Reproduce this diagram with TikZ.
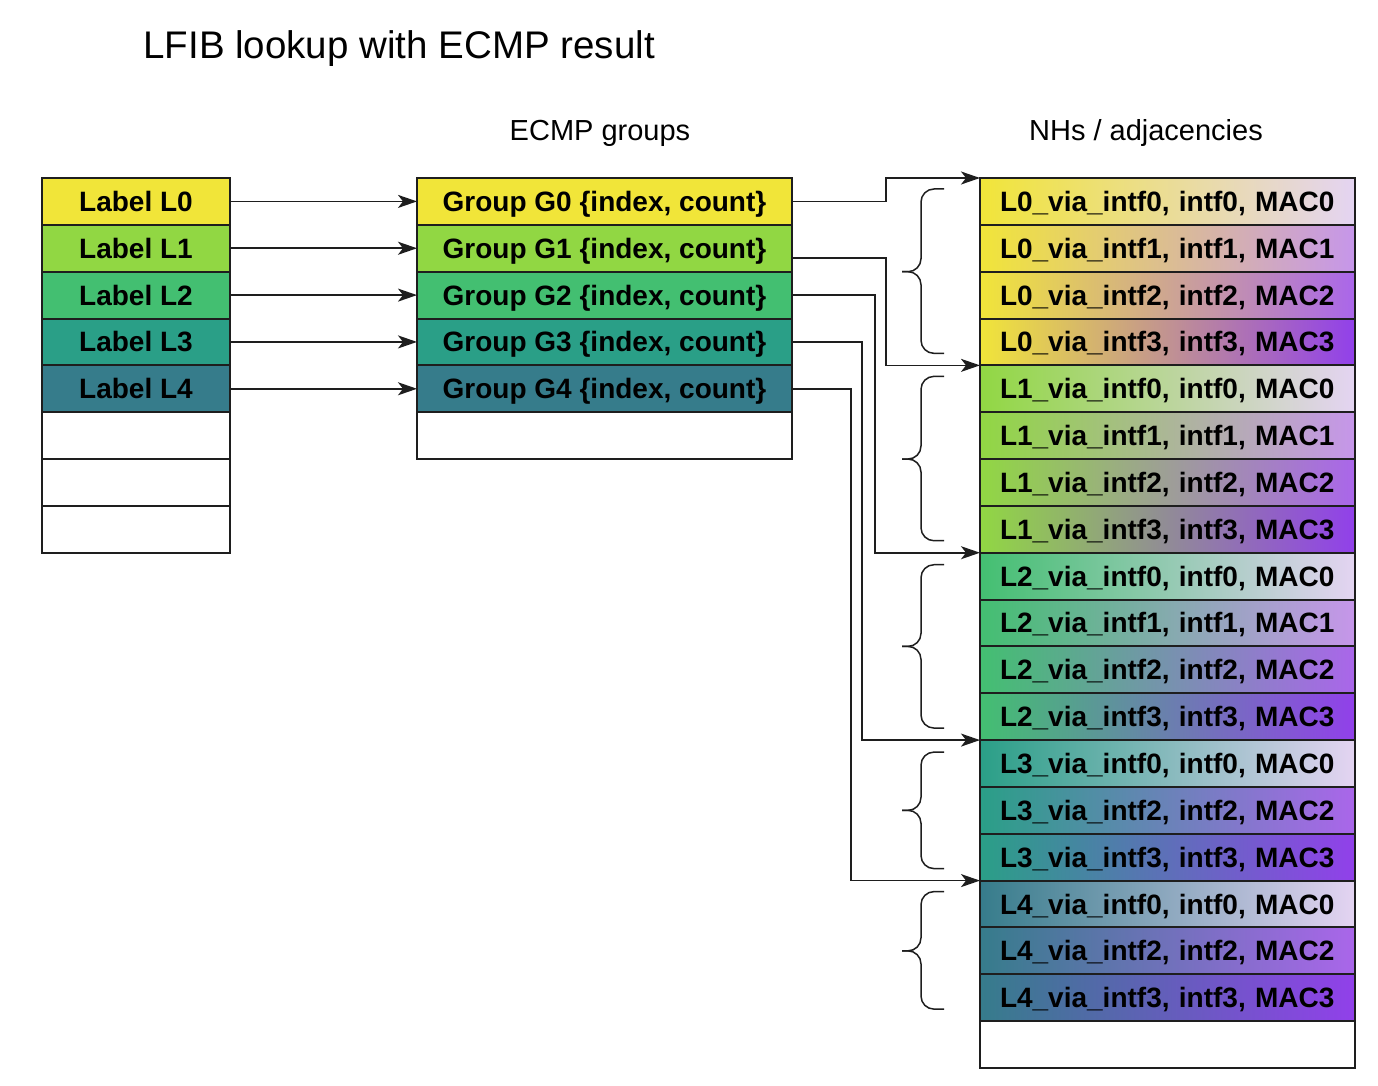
\documentclass[tikz,border=0pt]{standalone}
\usepackage{fontspec}
\setmainfont{Liberation Sans}
\usetikzlibrary{positioning,arrows.meta,calc}

\definecolor{lblzero}{RGB}{241,229,57}
\definecolor{lblone}{RGB}{145,215,67}
\definecolor{lbltwo}{RGB}{67,191,113}
\definecolor{lblthree}{RGB}{42,159,135}
\definecolor{lblfour}{RGB}{54,124,139}
\definecolor{maczero}{RGB}{228,212,242}
\definecolor{macone}{RGB}{198,150,234}
\definecolor{mactwo}{RGB}{170,102,234}
\definecolor{macthree}{RGB}{145,64,234}
\definecolor{rule}{RGB}{30,30,30}

\begin{document}
\begin{tikzpicture}[x=0.5pt,y=-0.5pt,
  cell/.style={draw=rule,line width=1pt,minimum height=23.42pt,inner sep=0pt,outer sep=0pt,
    text height=10pt,text depth=0pt,font=\fontsize{14pt}{16pt}\selectfont\bfseries},
  lblcell/.style={cell,minimum width=94pt},
  grpcell/.style={cell,minimum width=187.5pt},
  nhcell/.style 2 args={cell,text width=167.5pt,inner xsep=10pt,align=left,left color=#1,right color=#2},
  link/.style={draw=rule,line width=0.8pt,-{Stealth[length=9.5pt,width=6.5pt,inset=2.5pt]}},
  bracepath/.style={draw=rule,line width=0.75pt,rounded corners=6.5pt}]
\fill[white] (0,0) rectangle (1378,1086);
\useasboundingbox (0,0) rectangle (1378,1086);

\node[anchor=base west,inner sep=0pt,font=\fontsize{19.25pt}{22pt}\selectfont] (title) at (143,59) {LFIB lookup with ECMP result};
\node[anchor=base,inner sep=0pt,font=\fontsize{14.5pt}{17pt}\selectfont] (grphead) at (600,141) {ECMP groups};
\node[anchor=base,inner sep=0pt,font=\fontsize{14.5pt}{17pt}\selectfont] (nhhead) at (1146,141) {NHs / adjacencies};

% incoming labels
\node[lblcell,fill=lblzero,anchor=north] (l0) at (136,178) {Label L0};
\node[lblcell,fill=lblone,below=0pt of l0] (l1) {Label L1};
\node[lblcell,fill=lbltwo,below=0pt of l1] (l2) {Label L2};
\node[lblcell,fill=lblthree,below=0pt of l2] (l3) {Label L3};
\node[lblcell,fill=lblfour,below=0pt of l3] (l4) {Label L4};
\node[lblcell,below=0pt of l4] (l5) {};
\node[lblcell,below=0pt of l5] (l6) {};
\node[lblcell,below=0pt of l6] (l7) {};

% ECMP groups
\node[grpcell,fill=lblzero,anchor=north] (g0) at (604.5,178) {Group G0 \{index, count\}};
\node[grpcell,fill=lblone,below=0pt of g0] (g1) {Group G1 \{index, count\}};
\node[grpcell,fill=lbltwo,below=0pt of g1] (g2) {Group G2 \{index, count\}};
\node[grpcell,fill=lblthree,below=0pt of g2] (g3) {Group G3 \{index, count\}};
\node[grpcell,fill=lblfour,below=0pt of g3] (g4) {Group G4 \{index, count\}};
\node[grpcell,below=0pt of g4] (g5) {};

% next hops
\node[nhcell={lblzero}{maczero},anchor=north] (n00) at (1167.5,178) {L0\_via\_intf0, intf0, MAC0};
\node[nhcell={lblzero}{macone},below=0pt of n00] (n01) {L0\_via\_intf1, intf1, MAC1};
\node[nhcell={lblzero}{mactwo},below=0pt of n01] (n02) {L0\_via\_intf2, intf2, MAC2};
\node[nhcell={lblzero}{macthree},below=0pt of n02] (n03) {L0\_via\_intf3, intf3, MAC3};
\node[nhcell={lblone}{maczero},below=0pt of n03] (n10) {L1\_via\_intf0, intf0, MAC0};
\node[nhcell={lblone}{macone},below=0pt of n10] (n11) {L1\_via\_intf1, intf1, MAC1};
\node[nhcell={lblone}{mactwo},below=0pt of n11] (n12) {L1\_via\_intf2, intf2, MAC2};
\node[nhcell={lblone}{macthree},below=0pt of n12] (n13) {L1\_via\_intf3, intf3, MAC3};
\node[nhcell={lbltwo}{maczero},below=0pt of n13] (n20) {L2\_via\_intf0, intf0, MAC0};
\node[nhcell={lbltwo}{macone},below=0pt of n20] (n21) {L2\_via\_intf1, intf1, MAC1};
\node[nhcell={lbltwo}{mactwo},below=0pt of n21] (n22) {L2\_via\_intf2, intf2, MAC2};
\node[nhcell={lbltwo}{macthree},below=0pt of n22] (n23) {L2\_via\_intf3, intf3, MAC3};
\node[nhcell={lblthree}{maczero},below=0pt of n23] (n30) {L3\_via\_intf0, intf0, MAC0};
\node[nhcell={lblthree}{mactwo},below=0pt of n30] (n32) {L3\_via\_intf2, intf2, MAC2};
\node[nhcell={lblthree}{macthree},below=0pt of n32] (n33) {L3\_via\_intf3, intf3, MAC3};
\node[nhcell={lblfour}{maczero},below=0pt of n33] (n40) {L4\_via\_intf0, intf0, MAC0};
\node[nhcell={lblfour}{mactwo},below=0pt of n40] (n42) {L4\_via\_intf2, intf2, MAC2};
\node[nhcell={lblfour}{macthree},below=0pt of n42] (n43) {L4\_via\_intf3, intf3, MAC3};
\node[grpcell,below=0pt of n43] (nend) {};

% label -> group
\draw[link] (l0.east) -- (g0.west);
\draw[link] (l1.east) -- (g1.west);
\draw[link] (l2.east) -- (g2.west);
\draw[link] (l3.east) -- (g3.west);
\draw[link] (l4.east) -- (g4.west);

% group -> first next hop
\draw[link] (g0.east) -- ++(94,0) |- (n00.north west);
\draw[link] ([yshift=-4.75pt]g1.east) -- ++(94,0) |- (n10.north west);
\draw[link] (g2.east) -- ++(83,0) |- (n20.north west);
\draw[link] (g3.east) -- ++(70,0) |- (n30.north west);
\draw[link] (g4.east) -- ++(59,0) |- (n40.north west);

% braces, each half ends at the tip
\draw[bracepath] ([xshift=-18pt,yshift=-5.5pt]n00.north west) -- ++(-11.5pt,0) |- ($(n00.north west)!.5!(n03.south west)+(-39pt,0)$);
\draw[bracepath] ([xshift=-18pt,yshift=6pt]n03.south west) -- ++(-11.5pt,0) |- ($(n00.north west)!.5!(n03.south west)+(-39pt,0)$);
\draw[bracepath] ([xshift=-18pt,yshift=-5.5pt]n10.north west) -- ++(-11.5pt,0) |- ($(n10.north west)!.5!(n13.south west)+(-39pt,0)$);
\draw[bracepath] ([xshift=-18pt,yshift=6pt]n13.south west) -- ++(-11.5pt,0) |- ($(n10.north west)!.5!(n13.south west)+(-39pt,0)$);
\draw[bracepath] ([xshift=-18pt,yshift=-6pt]n20.north west) -- ++(-11.5pt,0) |- ($(n20.north west)!.5!(n23.south west)+(-39pt,0)$);
\draw[bracepath] ([xshift=-18pt,yshift=6pt]n23.south west) -- ++(-11.5pt,0) |- ($(n20.north west)!.5!(n23.south west)+(-39pt,0)$);
\draw[bracepath] ([xshift=-18pt,yshift=-6pt]n30.north west) -- ++(-11.5pt,0) |- ($(n30.north west)!.5!(n33.south west)+(-39pt,0)$);
\draw[bracepath] ([xshift=-18pt,yshift=6pt]n33.south west) -- ++(-11.5pt,0) |- ($(n30.north west)!.5!(n33.south west)+(-39pt,0)$);
\draw[bracepath] ([xshift=-18pt,yshift=-5.5pt]n40.north west) -- ++(-11.5pt,0) |- ($(n40.north west)!.5!(n43.south west)+(-39pt,0)$);
\draw[bracepath] ([xshift=-18pt,yshift=6pt]n43.south west) -- ++(-11.5pt,0) |- ($(n40.north west)!.5!(n43.south west)+(-39pt,0)$);
\end{tikzpicture}
\end{document}
